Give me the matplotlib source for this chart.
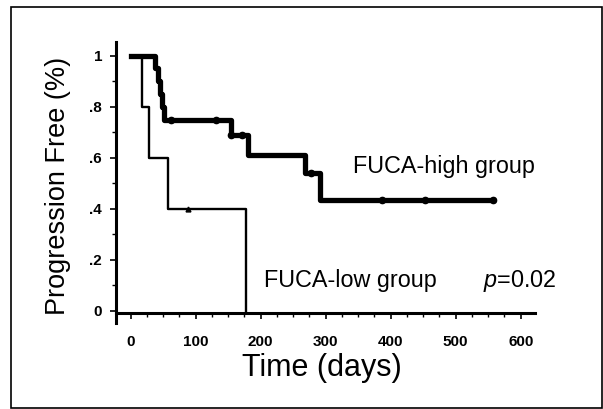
import matplotlib
matplotlib.use("Agg")
import matplotlib.pyplot as plt
from matplotlib.ticker import MultipleLocator, FixedLocator
from matplotlib.patches import Rectangle
import numpy as np

plt.rcParams['font.family'] = ['Liberation Sans', 'DejaVu Sans']
plt.rcParams['mathtext.fontset'] = 'custom'
plt.rcParams['mathtext.it'] = 'Liberation Sans:italic'
plt.rcParams['mathtext.rm'] = 'Liberation Sans'

# ---- data ----
high_times = [0, 37, 42, 45, 48, 51, 154, 181, 268, 291, 558]
high_surv = [1.0, 0.95, 0.90, 0.85, 0.80, 0.75, 0.69, 0.61, 0.54, 0.435, 0.435]
high_censor = [62, 131, 154, 171, 278, 386, 452, 558]

low_times = [0, 18, 28, 58, 177]
low_surv = [1.0, 0.8, 0.6, 0.4, 0.0]
low_censor = [88]

x_ticks = [0, 100, 200, 300, 400, 500, 600]
y_ticks = [0, 0.2, 0.4, 0.6, 0.8, 1.0]
y_ticklabels = ['0', '.2', '.4', '.6', '.8', '1']


def surv_at(t, times, surv):
    idx = np.searchsorted(times, t, side='right') - 1
    return surv[idx]


W, H = 603, 409
fig = plt.figure(figsize=(W / 100, H / 100), dpi=100)

# axes box in pixels: x 116..535, y 42..323 (from top)
ax = fig.add_axes([116 / W, 1 - 323 / H, (535 - 116) / W, (323 - 42) / H])

x0_px, x600_px = 130.7, 520.7
sx = (x600_px - x0_px) / 600
xmin = (116 - x0_px) / sx
xmax = (535 - x0_px) / sx
y0_px, y1_px = 311.0, 55.7
sy = (y0_px - y1_px)
ymin = (y0_px - 323) / sy
ymax = (y0_px - 42) / sy
ax.set_xlim(xmin, xmax)
ax.set_ylim(ymin, ymax)

# curves
ax.step(low_times, low_surv, where='post', color='black', lw=1.7, zorder=3)
ax.plot(low_censor, [surv_at(t, low_times, low_surv) for t in low_censor],
        linestyle='none', marker='^', ms=3.5, color='black', zorder=3)

ax.step(high_times, high_surv, where='post', color='black', lw=3.8,
        solid_capstyle='projecting', zorder=4)
ax.plot(high_censor, [surv_at(t, high_times, high_surv) for t in high_censor],
        linestyle='none', marker='o', ms=4.5, color='black', zorder=5)

# spines
for s in ['top', 'right']:
    ax.spines[s].set_visible(False)
ax.spines['bottom'].set_position(('data', -0.006))
ax.spines['bottom'].set_linewidth(2.2)
ax.spines['left'].set_linewidth(2.2)
ax.patch.set_visible(False)

ax.xaxis.set_major_locator(FixedLocator(x_ticks))
ax.xaxis.set_minor_locator(MultipleLocator(25))
ax.set_xticklabels([str(v) for v in x_ticks], fontsize=11, fontweight='bold')
ax.yaxis.set_major_locator(FixedLocator(y_ticks))
ax.yaxis.set_minor_locator(MultipleLocator(0.1))
ax.set_yticklabels(y_ticklabels, fontsize=11, fontweight='bold')

ax.tick_params(axis='x', which='major', direction='out', length=4, width=1.2, pad=12)
ax.tick_params(axis='x', which='minor', direction='out', length=3, width=1.0)
ax.tick_params(axis='y', which='major', direction='out', length=4, width=1.2, pad=6)
ax.tick_params(axis='y', which='minor', direction='out', length=3, width=1.0)

# annotations
ax.text(342, 0.539, 'FUCA-high group', fontsize=16.8, ha='left', va='baseline')
ax.text(205, 0.095, 'FUCA-low group', fontsize=16.8, ha='left', va='baseline')
ax.text(542, 0.095, r'$\mathit{p}$=0.02', fontsize=16.8, ha='left', va='baseline')

# axis titles
fig.text(57.7 / W, 1 - 186 / H, 'Progression Free (%)', rotation=90,
         fontsize=19.5, ha='center', va='center')
fig.text(321.5 / W, 1 - 368 / H, 'Time (days)', fontsize=22,
         ha='center', va='center')

# outer frame
fig.patches.append(Rectangle((11 / W, 1 - 408 / H), 591 / W, 401 / H,
                             transform=fig.transFigure, fill=False,
                             edgecolor='black', lw=1.2))

fig.savefig('out.png', dpi=100)
